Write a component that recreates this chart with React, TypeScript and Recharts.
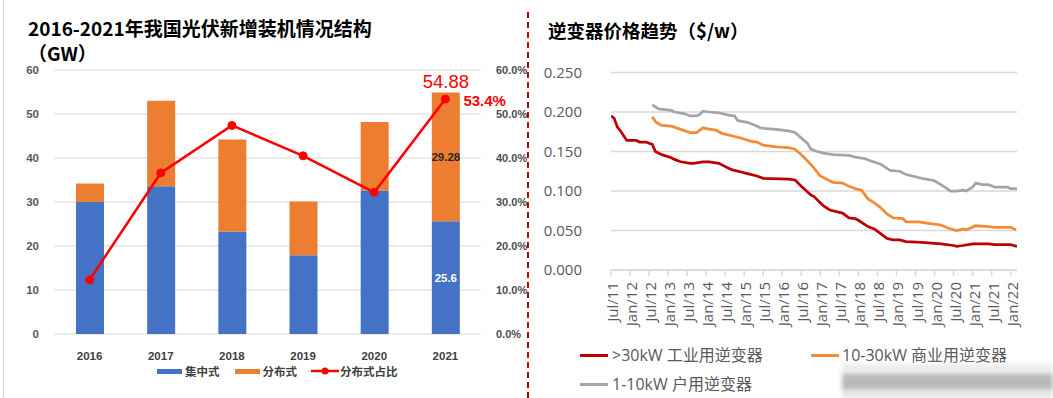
import React from 'react';
import {
  ComposedChart, Bar, Line, XAxis, YAxis, CartesianGrid, LabelList, LineChart,
} from 'recharts';

// ---------- Left chart data ----------
const years = ['2016', '2017', '2018', '2019', '2020', '2021'];
const centralized = [30.0, 33.6, 23.3, 17.9, 32.6, 25.6];
const distributed = [4.2, 19.4, 20.9, 12.2, 15.6, 29.28];
const distributedShare = [12.3, 36.6, 47.4, 40.5, 32.2, 53.4];
const leftTicks = [0, 10, 20, 30, 40, 50, 60];
const rightTicks = [0, 10, 20, 30, 40, 50, 60];
const highlightYear = '2021';

// ---------- Right chart data (month index from Jul/11, value $/W) ----------
const monthTickLabels = [
  'Jul/11', 'Jan/12', 'Jul/12', 'Jan/13', 'Jul/13', 'Jan/14', 'Jul/14', 'Jan/15',
  'Jul/15', 'Jan/16', 'Jul/16', 'Jan/17', 'Jul/17', 'Jan/18', 'Jul/18', 'Jan/19',
  'Jul/19', 'Jan/20', 'Jul/20', 'Jan/21', 'Jul/21', 'Jan/22',
];
const monthTicks = monthTickLabels.map((_, i) => i * 6);
const priceTicks = [0, 0.05, 0.1, 0.15, 0.2, 0.25];

const industrialPrices: [number, number][] = [
  [0, 0.195], [1, 0.192], [2, 0.181], [3, 0.176], [4, 0.170], [5, 0.164], [8, 0.164],
  [9, 0.162], [11, 0.162], [13, 0.159], [14, 0.150], [16, 0.146], [19, 0.142], [20, 0.140],
  [22, 0.137], [25, 0.135], [26, 0.135], [29, 0.137], [31, 0.137], [34, 0.135], [38, 0.127],
  [41, 0.124], [43, 0.122], [46, 0.119], [48, 0.116], [56, 0.115], [58, 0.114], [60, 0.106],
  [63, 0.095], [64, 0.093], [67, 0.081], [69, 0.076], [72, 0.073], [73, 0.072], [75, 0.066],
  [77, 0.065], [78, 0.063], [81, 0.055], [83, 0.052], [85, 0.046], [87, 0.040], [89, 0.038],
  [91, 0.038], [93, 0.036], [98, 0.035], [104, 0.033], [108, 0.031], [109, 0.030], [111, 0.031],
  [114, 0.033], [119, 0.033], [121, 0.032], [126, 0.032], [128, 0.030],
];
const commercialPrices: [number, number][] = [
  [13, 0.194], [14, 0.188], [15, 0.185], [16, 0.183], [19, 0.182], [22, 0.178], [25, 0.174],
  [27, 0.174], [28, 0.177], [29, 0.180], [30, 0.179], [33, 0.177], [35, 0.173], [39, 0.169],
  [41, 0.167], [44, 0.163], [46, 0.162], [48, 0.158], [52, 0.156], [56, 0.155], [58, 0.153],
  [60, 0.146], [62, 0.138], [64, 0.129], [66, 0.119], [68, 0.115], [70, 0.111], [73, 0.110],
  [75, 0.106], [77, 0.103], [79, 0.101], [81, 0.090], [83, 0.085], [85, 0.079], [87, 0.071],
  [89, 0.066], [92, 0.065], [93, 0.061], [97, 0.061], [100, 0.059], [104, 0.057], [107, 0.052],
  [109, 0.050], [111, 0.052], [112, 0.051], [115, 0.056], [119, 0.055], [121, 0.054],
  [126, 0.054], [127.7, 0.051],
];
const residentialPrices: [number, number][] = [
  [13, 0.209], [15, 0.204], [19, 0.202], [20, 0.200], [23, 0.198], [25, 0.195], [27, 0.195],
  [28, 0.197], [29, 0.201], [31, 0.200], [34, 0.199], [37, 0.196], [39, 0.195], [40, 0.189],
  [43, 0.187], [45, 0.184], [47, 0.180], [49, 0.179], [52, 0.178], [56, 0.176], [58, 0.174],
  [60, 0.167], [62, 0.160], [63, 0.153], [65, 0.150], [67, 0.148], [70, 0.146], [75, 0.145],
  [77, 0.143], [80, 0.141], [82, 0.138], [85, 0.134], [88, 0.126], [91, 0.125], [93, 0.121],
  [95, 0.119], [98, 0.116], [102, 0.113], [104, 0.108], [106, 0.103], [107, 0.100], [109, 0.100],
  [111, 0.101], [112, 0.100], [114, 0.105], [115, 0.110], [117, 0.108], [119, 0.108],
  [121, 0.105], [125, 0.105], [126, 0.103], [128, 0.103],
];

const barData = years.map((y, i) => ({
  year: y,
  central: centralized[i],
  dist: distributed[i],
  share: distributedShare[i],
}));

const toPts = (arr: [number, number][]) => arr.map(([m, v]) => ({ m, v }));

const BLUE = '#4472c4';
const ORANGE = '#ed7d31';
const RED = '#ff0000';
const CJK = "'Noto Sans CJK SC', 'Liberation Sans', sans-serif";
const SANS = "'Liberation Sans', 'Noto Sans CJK SC', sans-serif";
const RFONT = "'Open Sans', 'Noto Sans CJK SC', sans-serif";

const TotalLabel = (props: any) => {
  const { x, y, width, index } = props;
  const d = barData[index];
  if (!d || d.year !== highlightYear) return null;
  const total = (d.central + d.dist).toFixed(2);
  return (
    <text x={x + width / 2} y={y - 5} textAnchor="middle" fill={RED} fontSize={18.5} fontFamily={SANS}>
      {total}
    </text>
  );
};

const InnerLabel = (color: string) => (props: any) => {
  const { x, y, width, height, index, value } = props;
  const d = barData[index];
  if (!d || d.year !== highlightYear) return null;
  return (
    <text x={x + width / 2} y={y + height / 2} textAnchor="middle" dominantBaseline="central"
      fill={color} fontSize={11.5} fontWeight="bold" fontFamily={SANS}>
      {value}
    </text>
  );
};

const ShareLabel = (props: any) => {
  const { x, y, index, value } = props;
  const d = barData[index];
  if (!d || d.year !== highlightYear) return null;
  return (
    <text x={x + 18} y={y + 1} dominantBaseline="central" fill={RED} fontSize={15}
      fontWeight="bold" fontFamily={SANS}>
      {`${value}%`}
    </text>
  );
};

const MonthTick = (props: any) => {
  const { x, y, payload } = props;
  const idx = Math.round(payload.value / 6);
  return (
    <g transform={`translate(${x + 1},${y + 4}) rotate(-90)`}>
      <text textAnchor="end" dominantBaseline="central" fill="#595959" fontSize={15} fontFamily={RFONT}>
        {monthTickLabels[idx]}
      </text>
    </g>
  );
};

export default function App() {
  return (
    <div style={{ position: 'absolute', left: 0, top: 0, width: 1053, height: 398, background: '#fff', overflow: 'hidden' }}>
      {/* left border */}
      <div style={{ position: 'absolute', left: 3, top: 0, width: 1, height: 398, background: '#d4d4d4' }} />
      {/* divider */}
      <div style={{ position: 'absolute', left: 527, top: 12, width: 2, height: 386, backgroundImage: 'linear-gradient(to bottom, #c00000 0 6px, transparent 6px 10px)', backgroundSize: '2px 10px' }} />

      {/* Left title */}
      <div style={{ position: 'absolute', left: 28, top: 15, fontFamily: CJK, fontWeight: 'bold', fontSize: 19, color: '#000', lineHeight: '25px', whiteSpace: 'nowrap' }}>
        <div>2016-2021年我国光伏新增装机情况结构</div>
        <div>（GW）</div>
      </div>

      <div style={{ position: 'absolute', left: 0, top: 0 }}>
        <ComposedChart width={530} height={398} data={barData} margin={{ top: 70, right: 0, bottom: 34, left: 0 }}>
          <CartesianGrid yAxisId="left" vertical={false} stroke="#d9d9d9" strokeWidth={1} />
          <XAxis dataKey="year" axisLine={false} tickLine={false} tickMargin={12} height={30}
            tick={{ fontSize: 11.5, fontWeight: 'bold', fill: '#404040', fontFamily: SANS }} />
          <YAxis yAxisId="left" domain={[0, 60]} ticks={leftTicks} width={54} axisLine={false} tickLine={false}
            tickMargin={9} tick={{ fontSize: 11.5, fontWeight: 'bold', fill: '#595959', fontFamily: SANS }} />
          <YAxis yAxisId="right" orientation="right" domain={[0, 60]} ticks={rightTicks} width={49}
            axisLine={false} tickLine={false} tickMargin={9} tickFormatter={(v: number) => `${v.toFixed(1)}%`}
            tick={{ fontSize: 11, fontWeight: 'bold', fill: '#4d4d4d', fontFamily: SANS }} />
          <Bar yAxisId="left" dataKey="central" stackId="s" fill={BLUE} barSize={28} isAnimationActive={false}>
            <LabelList dataKey="central" content={InnerLabel('#ffffff')} />
          </Bar>
          <Bar yAxisId="left" dataKey="dist" stackId="s" fill={ORANGE} barSize={28} isAnimationActive={false}>
            <LabelList dataKey="dist" content={InnerLabel('#262626')} />
            <LabelList dataKey="dist" content={TotalLabel} />
          </Bar>
          <Line yAxisId="right" dataKey="share" stroke={RED} strokeWidth={2.5}
            dot={{ r: 4, fill: RED, stroke: RED, strokeWidth: 1 }} isAnimationActive={false}>
            <LabelList dataKey="share" content={ShareLabel} />
          </Line>
        </ComposedChart>
      </div>

      {/* Left legend */}
      <div style={{ position: 'absolute', left: 157, top: 363, height: 16, display: 'flex', alignItems: 'center', fontFamily: CJK, fontWeight: 'bold', fontSize: 11.5, color: '#404040', whiteSpace: 'nowrap' }}>
        <span style={{ display: 'inline-block', width: 25, height: 5, background: BLUE, marginRight: 3 }} />
        <span style={{ marginRight: 15 }}>集中式</span>
        <span style={{ display: 'inline-block', width: 25, height: 5, background: ORANGE, marginRight: 3 }} />
        <span style={{ marginRight: 14 }}>分布式</span>
        <svg width={28} height={10} style={{ marginRight: 1 }}>
          <line x1={0} y1={5} x2={28} y2={5} stroke={RED} strokeWidth={2.5} />
          <circle cx={14} cy={5} r={3.5} fill={RED} />
        </svg>
        <span>分布式占比</span>
      </div>

      {/* Right title */}
      <div style={{ position: 'absolute', left: 548, top: 18, fontFamily: CJK, fontWeight: 'bold', fontSize: 18.5, color: '#000', lineHeight: '24px', whiteSpace: 'nowrap' }}>
        逆变器价格趋势（$/w）
      </div>

      <div style={{ position: 'absolute', left: 530, top: 0 }}>
        <LineChart width={523} height={398} margin={{ top: 72.5, right: 36, bottom: 58, left: 0 }}>
          <CartesianGrid vertical={false} stroke="#d9d9d9" strokeWidth={1.5} />
          <XAxis type="number" dataKey="m" domain={[0, 128]} ticks={monthTicks} height={70}
            axisLine={{ stroke: '#d9d9d9', strokeWidth: 1.5 }} tickLine={{ stroke: '#d9d9d9', strokeWidth: 1.5 }}
            tickSize={6} tickMargin={2} tick={<MonthTick />} interval={0} allowDataOverflow />
          <YAxis type="number" domain={[0, 0.25]} ticks={priceTicks} width={81} axisLine={false} tickLine={false}
            tickMargin={23} tickFormatter={(v: number) => v.toFixed(3)}
            tick={{ fontSize: 15, fill: '#595959', fontFamily: RFONT }} />
          <Line data={toPts(residentialPrices)} dataKey="v" stroke="#a5a5a5" strokeWidth={2.75} dot={false} isAnimationActive={false} />
          <Line data={toPts(commercialPrices)} dataKey="v" stroke="#f58a35" strokeWidth={2.75} dot={false} isAnimationActive={false} />
          <Line data={toPts(industrialPrices)} dataKey="v" stroke="#c00000" strokeWidth={2.75} dot={false} isAnimationActive={false} />
        </LineChart>
      </div>

      {/* Right legend */}
      <div style={{ position: 'absolute', left: 580, top: 344, fontFamily: RFONT, fontSize: 16, color: '#595959', whiteSpace: 'nowrap', lineHeight: '22px' }}>
        <div style={{ display: 'flex', alignItems: 'center' }}>
          <span style={{ display: 'inline-block', width: 28, height: 3, background: '#c00000', marginRight: 4 }} />
          <span style={{ width: 199 }}>&gt;30kW 工业用逆变器</span>
          <span style={{ display: 'inline-block', width: 28, height: 3, background: '#f58a35', marginRight: 3 }} />
          <span>10-30kW 商业用逆变器</span>
        </div>
        <div style={{ display: 'flex', alignItems: 'center', marginTop: 7 }}>
          <span style={{ display: 'inline-block', width: 28, height: 3, background: '#a5a5a5', marginRight: 4 }} />
          <span>1-10kW 户用逆变器</span>
        </div>
      </div>

      {/* blurred watermark area */}
      <div style={{ position: 'absolute', left: 842, top: 364, width: 211, height: 34, filter: 'blur(2px)' }}>
        <div style={{ height: 10, background: '#ececec' }} />
        <div style={{ height: 15, background: '#b9b9b9' }} />
        <div style={{ height: 9, background: '#e6e6e6' }} />
      </div>
    </div>
  );
}
